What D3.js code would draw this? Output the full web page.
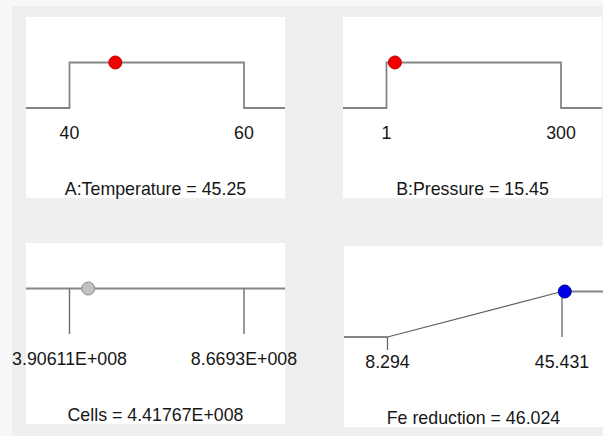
<!DOCTYPE html>
<html lang="en">
<head>
<meta charset="utf-8">
<title>Desirability ramps</title>
<style>
  body { margin: 0; background: #f0f0f0; }
  svg { display: block; }
  text { font-family: "Liberation Sans", Arial, sans-serif; font-size: 17.8px; fill: #161616; }
</style>
<script src="https://d3js.org/d3.v7.min.js"></script>
</head>
<body>
<script>
// values
const names = ["A:Temperature", "B:Pressure", "Cells", "Fe reduction"]
const lows = [40, 1, 390611000, 8.294]
const highs = [60, 300, 866930000, 45.431]
const current = [45.25, 15.45, 441767000, 46.024]
const lowLabels = ["40", "1", "3.90611E+008", "8.294"]
const highLabels = ["60", "300", "8.6693E+008", "45.431"]
const valueLabels = ["45.25", "15.45", "4.41767E+008", "46.024"]
const goals = ["range", "range", "none", "maximize"]

let width = 603
let height = 436
let panelW = 259
let panelH = 181
let panelPos = [[26, 17], [343, 17], [26, 243], [344, 246]]

let dotStyle = {
    range: { fill: "#f00000", stroke: "#c40000" },
    none: { fill: "#c2c2c2", stroke: "#8a8a8a" },
    maximize: { fill: "#0000e6", stroke: "#0000a0" }
}

let svg = d3.select("body").append("svg")
    .attr("width", width)
    .attr("height", height)

svg.append("rect").attr("width", width).attr("height", height).attr("fill", "#efefef")
svg.append("rect").attr("width", width).attr("height", 6).attr("fill", "#f8f8f8")
svg.append("rect").attr("width", 12).attr("height", height).attr("fill", "#f8f8f8")

names.forEach((name, i) => {
    let [px, py] = panelPos[i]
    let g = svg.append("g").attr("transform", `translate(${px},${py})`)

    g.append("rect")
        .attr("width", panelW)
        .attr("height", panelH)
        .attr("fill", "white")

    let x = d3.scaleLinear().domain([lows[i], highs[i]]).range([43.5, 218])
    let y = d3.scaleLinear().domain([0, 1]).range([91, 45.5])
    let left = x.invert(0)
    let right = x.invert(panelW)

    let pts
    if (goals[i] == "range") {
        pts = [[left, 0], [lows[i], 0], [lows[i], 1], [highs[i], 1], [highs[i], 0], [right, 0]]
    } else if (goals[i] == "maximize") {
        pts = [[left, 0], [lows[i], 0], [highs[i], 1], [right, 1]]
    } else {
        pts = [[left, 1], [right, 1]]
    }

    let line = d3.line().x(d => x(d[0])).y(d => y(d[1]))

    if (goals[i] == "maximize") {
        // flat parts grey, ramp thinner and darker
        g.append("path").attr("d", line(pts.slice(0, 2))).attr("fill", "none").attr("stroke", "#858585").attr("stroke-width", 1.8)
        g.append("path").attr("d", line(pts.slice(1, 3))).attr("fill", "none").attr("stroke", "#5e5e5e").attr("stroke-width", 1.2)
        g.append("path").attr("d", line(pts.slice(2))).attr("fill", "none").attr("stroke", "#858585").attr("stroke-width", 1.8)
        // ticks
        g.append("line").attr("x1", x(lows[i])).attr("x2", x(lows[i]))
            .attr("y1", y(0)).attr("y2", y(0) + 13)
            .attr("stroke", "#6e6e6e").attr("stroke-width", 1.4)
        g.append("line").attr("x1", x(highs[i])).attr("x2", x(highs[i]))
            .attr("y1", y(1)).attr("y2", y(0))
            .attr("stroke", "#6e6e6e").attr("stroke-width", 1.4)
    } else {
        g.append("path").attr("d", line(pts)).attr("fill", "none").attr("stroke", "#858585").attr("stroke-width", 1.8)
    }

    if (goals[i] == "none") {
        [lows[i], highs[i]].forEach(v => {
            g.append("line").attr("x1", x(v)).attr("x2", x(v))
                .attr("y1", y(1)).attr("y2", y(0))
                .attr("stroke", "#6e6e6e").attr("stroke-width", 1.4)
        })
    }

    // current value dot sits on the desirability = 1 level
    g.append("circle")
        .attr("cx", x(current[i]))
        .attr("cy", y(1))
        .attr("r", 6.5)
        .attr("fill", dotStyle[goals[i]].fill)
        .attr("stroke", dotStyle[goals[i]].stroke)
        .attr("stroke-width", 1)

    g.append("text").attr("x", x(lows[i])).attr("y", 122).attr("text-anchor", "middle").text(lowLabels[i])
    g.append("text").attr("x", x(highs[i])).attr("y", 122).attr("text-anchor", "middle").text(highLabels[i])

    g.append("text")
        .attr("x", panelW / 2)
        .attr("y", 177.5)
        .attr("text-anchor", "middle")
        .text(`${name} = ${valueLabels[i]}`)
})
</script>
</body>
</html>
